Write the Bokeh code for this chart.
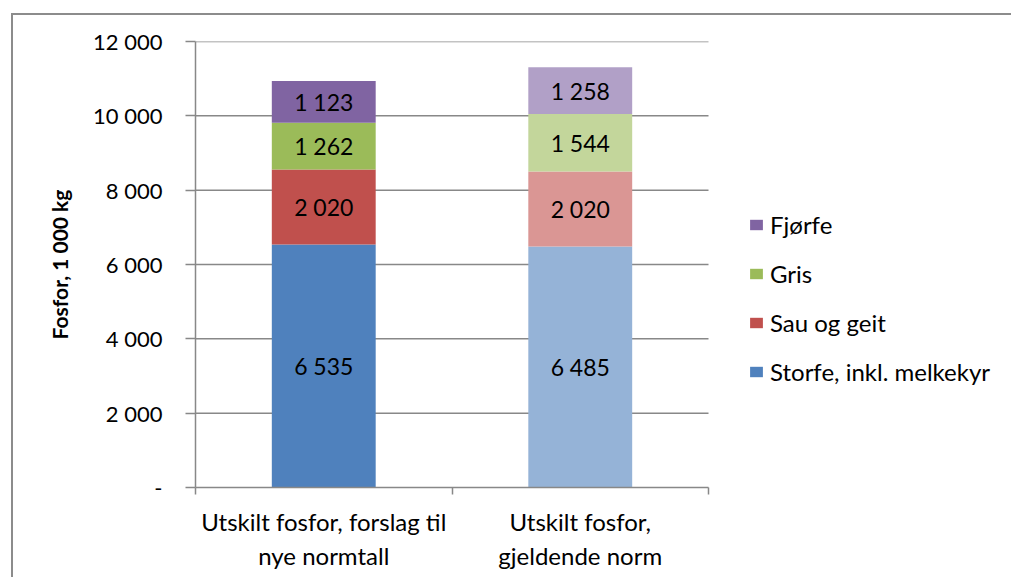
from bokeh.plotting import figure
from bokeh.models import (ColumnDataSource, Range1d, LinearAxis, FixedTicker, Legend, LegendItem)
from bokeh.core.properties import value
from bokeh.embed import file_html
from bokeh.resources import INLINE

categories = ["Utskilt fosfor, forslag til\nnye normtall", "Utskilt fosfor,\ngjeldende norm"]
series = ["Storfe, inkl. melkekyr", "Sau og geit", "Gris", "Fjørfe"]
storfe = [6535, 6485]
sau = [2020, 2020]
gris = [1262, 1544]
fjorfe = [1123, 1258]
values_by_series = [storfe, sau, gris, fjorfe]
colors_dark = ["#4F81BD", "#C0504D", "#9BBB59", "#8064A2"]
colors_light = ["#95B3D7", "#DA9694", "#C3D69B", "#B1A0C7"]
y_ticks = [0, 2000, 4000, 6000, 8000, 10000, 12000]

FONT = "Lato"
GRID = "#888888"

def fmt(v):
    return f"{v:,}".replace(",", " ")

n = len(categories)
centers = [i + 0.5 for i in range(n)]

W, H = 1000, 564
LEFT, TOP, BOTTOM = 182, 26, 92
PLOT_W = 513                      # width of the category area in px
frame_w = W - LEFT
x_end = n * frame_w / PLOT_W      # extend frame to the right to host the legend

p = figure(width=W, height=H, x_range=Range1d(0, x_end),
           y_range=Range1d(0, 12000), output_backend="svg", toolbar_location=None,
           x_axis_location=None, y_axis_location=None,
           min_border_left=LEFT, min_border_right=0, min_border_top=TOP, min_border_bottom=BOTTOM)
p.styles = {"border-left": "2px solid #8c8c8c", "border-top": "2px solid #8c8c8c",
            "margin-left": "11px", "margin-top": "13px"}
p.outline_line_color = None
p.xgrid.visible = False
p.ygrid.visible = False

# horizontal gridlines over the category area only
gy = y_ticks[1:]
p.segment(x0=[0] * len(gy), x1=[n] * len(gy), y0=gy, y1=gy,
          line_color=GRID, line_width=1.5, level="underlay")

# y axis
yax = LinearAxis(ticker=FixedTicker(ticks=y_ticks))
yax.major_label_overrides = {t: (fmt(t) if t else "-") for t in y_ticks}
yax.major_tick_out = 10
yax.major_tick_in = 0
yax.minor_tick_line_color = None
yax.axis_line_color = GRID
yax.axis_line_width = 1.5
yax.major_tick_line_color = GRID
yax.major_tick_line_width = 1.5
yax.major_label_standoff = 23
yax.major_label_text_font = FONT
yax.major_label_text_font_size = "22px"
yax.major_label_text_color = "#000000"
yax.axis_label = "Fosfor, 1 000 kg"
yax.axis_label_text_font = FONT
yax.axis_label_text_font_size = "21px"
yax.axis_label_text_font_style = "bold"
yax.axis_label_text_color = "#000000"
yax.axis_label_standoff = 18
p.add_layout(yax, "left")

# x boundary ticks axis
xtick = LinearAxis(ticker=FixedTicker(ticks=list(range(n + 1))), bounds=(0, n))
xtick.major_label_text_font_size = "0px"
xtick.major_label_text_color = None
xtick.major_tick_out = 7
xtick.major_tick_in = 0
xtick.minor_tick_line_color = None
xtick.axis_line_color = GRID
xtick.axis_line_width = 1.5
xtick.major_tick_line_color = GRID
xtick.major_tick_line_width = 1.5
xtick.major_label_standoff = 0
p.add_layout(xtick, "below")

xcat = LinearAxis(ticker=FixedTicker(ticks=centers))
xcat.major_label_overrides = {c: lab for c, lab in zip(centers, categories)}
xcat.axis_line_color = None
xcat.major_tick_line_color = None
xcat.minor_tick_line_color = None
xcat.major_label_text_font = FONT
xcat.major_label_text_font_size = "24px"
xcat.major_label_text_color = "#000000"
xcat.major_label_standoff = 6
p.add_layout(xcat, "below")

# stacked bars
bottom = [0] * n
items = []
for name, vals, cd, cl in zip(series, values_by_series, colors_dark, colors_light):
    top = [b + v for b, v in zip(bottom, vals)]
    mid = [(b + t) / 2 for b, t in zip(bottom, top)]
    src = ColumnDataSource(dict(x=centers, bottom=bottom, top=top, mid=mid,
                                color=[cd, cl], label=[fmt(v) for v in vals]))
    r = p.vbar(x="x", bottom="bottom", top="top", width=0.405, fill_color="color",
               line_color=None, source=src)
    p.text(x="x", y="mid", text="label", source=src, text_align="center",
           text_baseline="middle", text_font=value(FONT), text_font_size="23px",
           text_color="#000000")
    items.append(LegendItem(label=name, renderers=[r], index=0))
    bottom = top

legend = Legend(items=list(reversed(items)), location=(553, 101))
legend.border_line_color = None
legend.background_fill_alpha = 0
legend.label_text_font = FONT
legend.label_text_font_size = "24px"
legend.label_text_color = "#000000"
legend.glyph_width = 16
legend.glyph_height = 13
legend.label_height = 22
legend.spacing = 20
legend.padding = 0
legend.margin = 0
legend.label_standoff = 6
p.add_layout(legend, "center")

open("out.html", "w").write(file_html(p, INLINE))
